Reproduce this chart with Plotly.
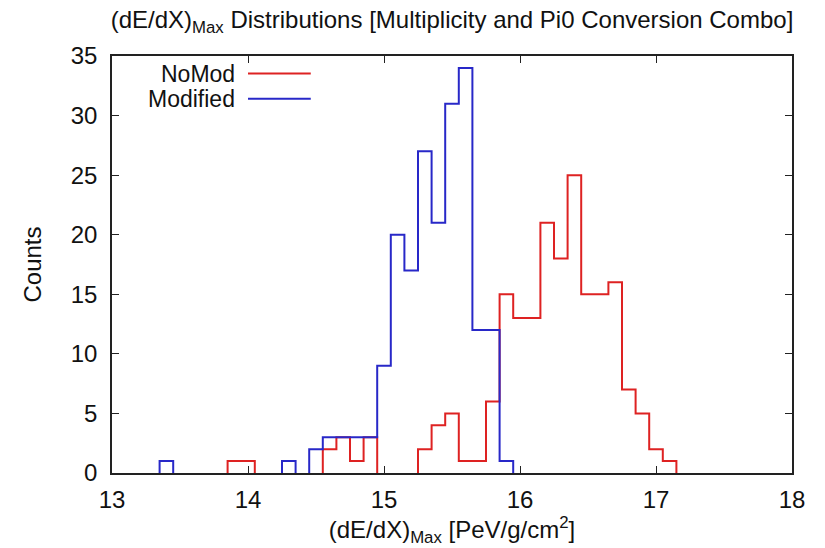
import plotly.graph_objects as go

# Bin centres (bin width 0.1) and counts
bin_width = 0.1
bin_centers = [round(13.0 + 0.1 * i, 1) for i in range(46)]  # 13.0 ... 17.5

nomod_nonzero = {13.9: 1, 14.0: 1, 14.6: 2, 14.7: 3, 14.8: 1, 14.9: 3,
                 15.3: 2, 15.4: 4, 15.5: 5, 15.6: 1, 15.7: 1, 15.8: 6,
                 15.9: 15, 16.0: 13, 16.1: 13, 16.2: 21, 16.3: 18, 16.4: 25,
                 16.5: 15, 16.6: 15, 16.7: 16, 16.8: 7, 16.9: 5, 17.0: 2, 17.1: 1}
modified_nonzero = {13.4: 1, 14.3: 1, 14.5: 2, 14.6: 3, 14.7: 3, 14.8: 3,
                    14.9: 3, 15.0: 9, 15.1: 20, 15.2: 17, 15.3: 27, 15.4: 21,
                    15.5: 31, 15.6: 34, 15.7: 12, 15.8: 12, 15.9: 1}

nomod_counts = [nomod_nonzero.get(c, 0) for c in bin_centers]
modified_counts = [modified_nonzero.get(c, 0) for c in bin_centers]

x_ticks = [13, 14, 15, 16, 17, 18]
y_ticks = [0, 5, 10, 15, 20, 25, 30, 35]

RED = "rgb(222,34,34)"
BLUE = "rgb(40,40,200)"
FONT = "Liberation Sans, Arial, sans-serif"


def step_path(centers, counts, width):
    """Histogram outline for each run of non-empty bins (no line along zero)."""
    xs, ys = [], []
    n = len(centers)
    i = 0
    while i < n:
        if counts[i] == 0:
            i += 1
            continue
        left = centers[i] - width / 2
        xs += [left]
        ys += [0]
        while i < n and counts[i] != 0:
            l = centers[i] - width / 2
            r = centers[i] + width / 2
            xs += [l, r]
            ys += [counts[i], counts[i]]
            i += 1
        xs += [xs[-1], None]
        ys += [0, None]
    return xs, ys


fig = go.Figure()
for name, counts, color in [("NoMod", nomod_counts, RED), ("Modified", modified_counts, BLUE)]:
    sx, sy = step_path(bin_centers, counts, bin_width)
    fig.add_trace(go.Scatter(x=sx, y=sy, mode="lines", connectgaps=False,
                             line=dict(color=color, width=2),
                             name=name, showlegend=False))

axis_common = dict(showgrid=False, zeroline=False, showline=True, linecolor="#222",
                   linewidth=1.5, mirror="allticks", ticks="inside", ticklen=7,
                   tickwidth=1.2, tickcolor="#222",
                   tickfont=dict(family=FONT, size=24, color="#111"))

fig.update_layout(
    width=825, height=548,
    margin=dict(l=112, r=33, t=56, b=75),
    paper_bgcolor="white", plot_bgcolor="white",
    font=dict(family=FONT, color="#111"),
    title=dict(text="(dE/dX)<sub>Max</sub> Distributions [Multiplicity and Pi0 Conversion Combo]",
               x=0.5, xanchor="center", xref="paper", y=1 - 20 / 548, yanchor="middle",
               font=dict(family=FONT, size=24, color="#111")),
    xaxis=dict(range=[13, 18], tickvals=x_ticks, ticktext=[str(v) for v in x_ticks],
               title=dict(text="(dE/dX)<sub>Max</sub> [PeV/g/cm<sup>2</sup>]",
                          font=dict(family=FONT, size=24), standoff=2),
               ticklabelstandoff=4,
               **axis_common),
    yaxis=dict(range=[0, 35], tickvals=y_ticks, ticktext=[str(v) for v in y_ticks],
               title=dict(text="Counts", font=dict(family=FONT, size=24), standoff=22),
               ticklabelstandoff=8,
               **axis_common),
)

# Custom legend (text right-aligned, sample line to the right) in paper coords
legend_items = [("NoMod", RED, 0.958), ("Modified", BLUE, 0.8975)]
for label, color, yp in legend_items:
    fig.add_annotation(x=0.1835, y=yp, xref="paper", yref="paper", text=label,
                       showarrow=False, xanchor="right", yanchor="middle",
                       font=dict(family=FONT, size=23, color="#111"))
    fig.add_shape(type="line", xref="paper", yref="paper",
                  x0=0.200, x1=0.2923, y0=yp, y1=yp,
                  line=dict(color=color, width=2))

fig.write_html("out.html")
